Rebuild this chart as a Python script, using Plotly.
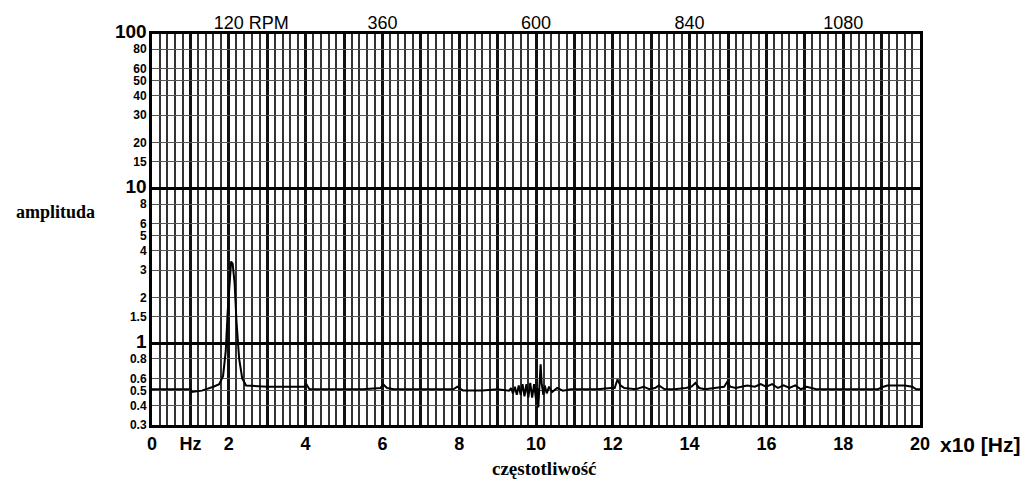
import math
import plotly.graph_objects as go

# ---- data ----
freq = [0.0, 0.5, 1.0, 1.04, 1.3, 1.6, 1.75, 1.85, 1.92, 1.97, 2.02, 2.06, 2.1, 2.15, 2.2, 2.27, 2.35, 2.45,
        3.0, 3.5, 3.97, 4.02, 4.1, 4.6, 5.0, 5.5, 5.95, 6.02, 6.12, 6.3, 7.0, 7.5, 7.85, 7.95, 8.1, 8.6, 9.0,
        9.3, 9.35, 9.4, 9.45, 9.5, 9.55, 9.6, 9.65, 9.7, 9.75, 9.8, 9.85, 9.9, 9.95, 10.0, 10.03, 10.06,
        10.09, 10.12, 10.15, 10.19, 10.23, 10.28, 10.34, 10.42, 10.55, 10.7, 10.9, 11.2, 11.6, 11.95, 12.05,
        12.12, 12.2, 12.3, 12.6, 12.8, 12.95, 13.1, 13.2, 13.35, 13.6, 13.9, 14.05, 14.15, 14.25, 14.4, 14.7,
        14.9, 14.98, 15.06, 15.2, 15.5, 15.7, 15.85, 16.0, 16.15, 16.3, 16.45, 16.6, 16.75, 16.9, 17.05, 17.3,
        17.8, 18.4, 18.9, 19.05, 19.15, 19.4, 19.6, 19.8, 19.9, 20.0]
amp = [0.51, 0.51, 0.51, 0.49, 0.50, 0.53, 0.55, 0.62, 0.9, 1.6, 2.7, 3.4, 3.3, 2.5, 1.4, 0.8, 0.6, 0.54,
       0.53, 0.53, 0.53, 0.55, 0.51, 0.51, 0.51, 0.51, 0.52, 0.55, 0.52, 0.51, 0.51, 0.51, 0.51, 0.53, 0.50, 0.50, 0.51,
       0.50, 0.52, 0.48, 0.53, 0.47, 0.54, 0.47, 0.55, 0.46, 0.55, 0.45, 0.56, 0.45, 0.55, 0.44, 0.52, 0.39,
       0.50, 0.74, 0.55, 0.47, 0.54, 0.48, 0.53, 0.49, 0.52, 0.50, 0.51, 0.51, 0.51, 0.52, 0.52,
       0.59, 0.54, 0.52, 0.51, 0.53, 0.51, 0.52, 0.54, 0.51, 0.51, 0.52, 0.53, 0.56, 0.52, 0.51, 0.52,
       0.53, 0.57, 0.53, 0.52, 0.54, 0.53, 0.55, 0.53, 0.55, 0.52, 0.54, 0.52, 0.54, 0.51, 0.53, 0.51,
       0.51, 0.51, 0.51, 0.53, 0.54, 0.54, 0.54, 0.53, 0.51, 0.51]

x_tick_vals = list(range(0, 21))
x_tick_text = ["0", "Hz", "2", "", "4", "", "6", "", "8", "", "10", "", "12", "", "14", "", "16", "", "18", "",
               "20"]
rpm_tick_vals = [2, 6, 10, 14, 18]
rpm_tick_text = ["120", "360", "600", "840", "1080"]
rpm_unit = "RPM"
y_tick_vals = [0.3, 0.4, 0.5, 0.6, 0.8, 1, 1.5, 2, 3, 4, 5, 6, 8, 10, 15, 20, 30, 40, 50, 60, 80, 100]
y_tick_labels = ["0.3", "0.4", "0.5", "0.6", "0.8", "1", "1.5", "2", "3", "4", "5", "6", "8", "10", "15", "20",
                 "30", "40", "50", "60", "80", "100"]
y_big_labels = ["1", "10", "100"]
y_major_vals = [1, 10]
x_range = [0, 20]
y_range = [0.3, 100]

# ---- figure ----
def style_label(t):
    size = 19 if t in y_big_labels else 12
    return f'<span style="font-size:{size}px">{t}</span>'

y_tick_text = [style_label(t) for t in y_tick_labels]
# first top label: number centred on its tick, unit trailing to the right
pad = f'<span style="color:rgba(0,0,0,0)">{rpm_unit}\u00a0</span>'
top_text = [pad + rpm_tick_text[0] + "\u00a0" + rpm_unit] + rpm_tick_text[1:]
log_range = [math.log10(y_range[0]), math.log10(y_range[1])]

fig = go.Figure()
fig.add_trace(go.Scatter(x=freq, y=amp, mode="lines", line=dict(color="black", width=2),
                         showlegend=False, hoverinfo="skip"))
fig.add_trace(go.Scatter(x=[x_range[0]], y=[y_range[0]], xaxis="x2", yaxis="y2", mode="markers",
                         marker=dict(opacity=0), showlegend=False, hoverinfo="skip"))

fig.update_layout(
    width=1024, height=475,
    margin=dict(l=144, r=112, t=26, b=58, autoexpand=False),
    paper_bgcolor="white", plot_bgcolor="white",
    font=dict(family="Liberation Sans, Arial, sans-serif", color="black"),
    xaxis=dict(range=x_range, tickmode="array", tickvals=x_tick_vals, ticktext=x_tick_text,
               showgrid=True, gridcolor="#111", gridwidth=3, zeroline=False, automargin=False,
               minor=dict(dtick=0.2, tick0=0, showgrid=True, gridcolor="#333", gridwidth=2.1),
               showline=True, linecolor="black", linewidth=3, mirror=True,
               ticks="", tickfont=dict(size=18, family="Liberation Sans, Arial, sans-serif",
                                       weight="bold")),
    xaxis2=dict(range=x_range, overlaying="x", side="top", tickmode="array", tickvals=rpm_tick_vals,
                ticktext=top_text, showgrid=False, zeroline=False, ticks="", automargin=False,
                tickfont=dict(size=18, family="Liberation Sans, Arial, sans-serif")),
    yaxis=dict(type="log", range=log_range, tickmode="array", tickvals=y_tick_vals, ticktext=y_tick_text,
               showgrid=True, gridcolor="#555", gridwidth=1.2, zeroline=False, automargin=False,
               showline=True, linecolor="black", linewidth=3, mirror=True, ticks="",
               tickfont=dict(size=12, family="Liberation Sans, Arial, sans-serif", weight="bold")),
    yaxis2=dict(type="log", range=log_range, overlaying="y", tickmode="array", tickvals=y_major_vals,
                showticklabels=False, showgrid=True, gridcolor="black", gridwidth=3, zeroline=False,
                automargin=False),
)

# baseline reference line extending beyond the frame
fig.add_shape(type="line", xref="paper", yref="y", x0=-0.06, x1=1.026,
              y0=math.log10(0.5), y1=math.log10(0.5), line=dict(color="black", width=1))

fig.add_annotation(text="<b>amplituda</b>", xref="paper", yref="paper", x=-0.126, y=0.545,
                   xanchor="center", showarrow=False, font=dict(family="Liberation Serif, serif", size=18))
fig.add_annotation(text="<b>częstotliwość</b>", xref="paper", yref="paper", x=0.51, y=-0.11,
                   xanchor="center", yanchor="middle", showarrow=False,
                   font=dict(family="Liberation Serif, serif", size=19))
fig.add_annotation(text="<b>x10 [Hz]</b>", xref="paper", yref="paper", x=1.024, y=-0.05,
                   xanchor="left", yanchor="middle", showarrow=False,
                   font=dict(family="Liberation Sans, Arial, sans-serif", size=21))

fig.write_html("out.html")
